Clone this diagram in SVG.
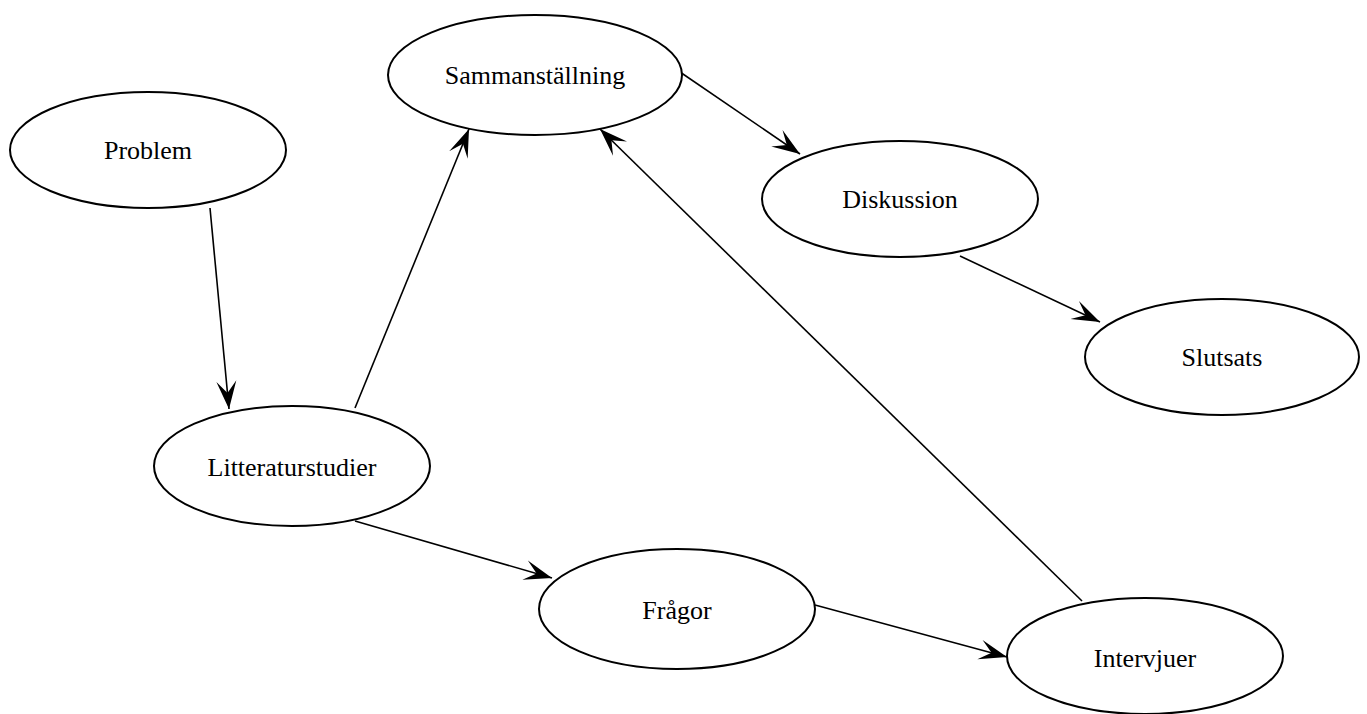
<svg xmlns="http://www.w3.org/2000/svg" width="1367" height="714" viewBox="0 0 1367 714">
<style>
.node ellipse{fill:#fff;stroke:#000;stroke-width:2}
.node text{font-family:"Liberation Serif","Times New Roman",serif;font-size:26px;fill:#000;text-anchor:middle}
.edges line{stroke:#000;stroke-width:1.6;marker-end:url(#vee)}
</style>
<defs>
<marker id="vee" markerUnits="userSpaceOnUse" markerWidth="30" markerHeight="22" refX="28" refY="10" orient="auto" viewBox="0 0 30 20">
<path d="M0,0 L28,10 L0,20 L12,10 Z" fill="#000"/>
</marker>
</defs>
<rect width="1367" height="714" fill="#fff"/>
<g class="edges">
<line x1="210" y1="208" x2="229" y2="409"/>
<line x1="355" y1="408" x2="469" y2="129"/>
<line x1="355" y1="521" x2="552" y2="578"/>
<line x1="815" y1="605" x2="1007" y2="657"/>
<line x1="1082" y1="601" x2="600" y2="129"/>
<line x1="680" y1="72" x2="800" y2="154"/>
<line x1="960" y1="256" x2="1100" y2="322"/>
</g>
<g id="problem" class="node"><ellipse cx="148" cy="150" rx="138" ry="58"/><text x="148" y="159">Problem</text></g>
<g id="sammanstallning" class="node"><ellipse cx="535" cy="75" rx="147" ry="60"/><text x="535" y="84">Sammanställning</text></g>
<g id="diskussion" class="node"><ellipse cx="900" cy="199" rx="138" ry="58"/><text x="900" y="208">Diskussion</text></g>
<g id="slutsats" class="node"><ellipse cx="1222" cy="357" rx="137" ry="58"/><text x="1222" y="366">Slutsats</text></g>
<g id="litteraturstudier" class="node"><ellipse cx="292" cy="466" rx="138" ry="60"/><text x="292" y="476">Litteraturstudier</text></g>
<g id="fragor" class="node"><ellipse cx="677" cy="609" rx="138" ry="60"/><text x="677" y="619">Frågor</text></g>
<g id="intervjuer" class="node"><ellipse cx="1145" cy="656" rx="138" ry="58"/><text x="1145" y="667">Intervjuer</text></g>
</svg>
